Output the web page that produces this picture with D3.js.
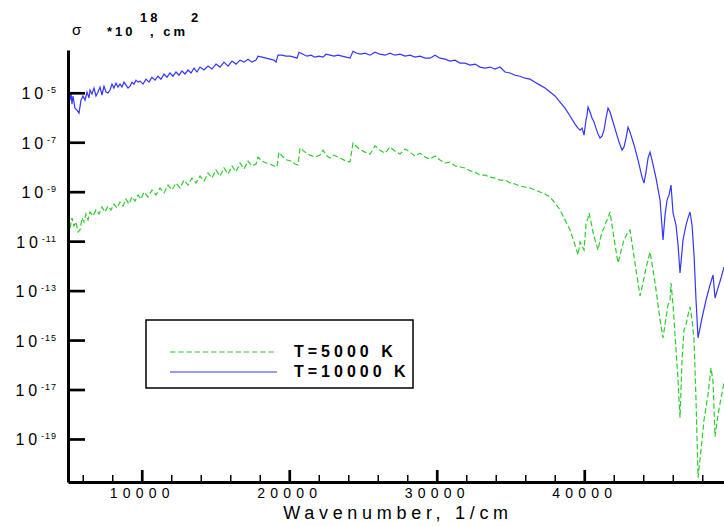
<!DOCTYPE html>
<html>
<head>
<meta charset="utf-8">
<script src="https://cdn.jsdelivr.net/npm/d3@7"></script>
<style>
  body { margin: 0; background: #fff; }
  svg { display: block; font-family: "Liberation Sans", Arial, sans-serif; }
  .axis .domain { stroke: #000; stroke-width: 3; }
  .axis .tick line { stroke: #000; stroke-width: 2.7; }
  .minor .tick line { stroke: #000; stroke-width: 1.5; }
  .minor .domain { display: none; }
</style>
</head>
<body>
<div id="chart"></div>
<script>
// wavenumber (1/cm) and log10 of cross section (in 10^-18 cm^2)
var wn10000 = [5136, 5203, 5271, 5339, 5475, 5610, 5746, 5881, 6017, 6153, 6288, 6424, 6492, 6627, 6763, 6898, 7034, 7170, 7305, 7441,
  7576, 7712, 7848, 7983, 8119, 8254, 8390, 8526, 8661, 8797, 8932, 9068, 9204, 9339, 9475, 9610, 9746, 9882, 10085, 10288,
  10492, 10695, 10899, 11102, 11305, 11509, 11712, 11916, 12119, 12322, 12526, 12729, 12933, 13136, 13339, 13543, 13746, 13950, 14221, 14492,
  14763, 15034, 15306, 15577, 15848, 16119, 16390, 16662, 16933, 17204, 17475, 17746, 17882, 18153, 18424, 18696, 18967, 19102, 19238, 19509,
  19780, 20052, 20323, 20526, 20662, 20933, 21204, 21475, 21747, 22018, 22289, 22492, 22764, 23035, 23306, 23577, 23848, 24120, 24323, 24594,
  24865, 25137, 25476, 25815, 26154, 26493, 26832, 27171, 27510, 27849, 28188, 28527, 28866, 29205, 29544, 29883, 30222, 30561, 30900, 31239,
  31578, 31917, 32256, 32595, 32934, 33273, 33612, 33951, 34290, 34629, 34968, 35307, 35646, 35985, 36324, 36663, 37002, 37341, 37680, 38019,
  38358, 38697, 39036, 39375, 39578, 39714, 39849, 39985, 40120, 40188, 40256, 40392, 40527, 40663, 40798, 40934, 41070, 41205, 41341, 41476,
  41612, 41748, 41951, 42154, 42358, 42561, 42697, 42832, 42968, 43104, 43375, 43646, 43917, 44053, 44188, 44324, 44460, 44595, 44866, 45138,
  45341, 45477, 45612, 45748, 45883, 46019, 46222, 46358, 46494, 46697, 46900, 47036, 47172, 47307, 47443, 47578, 47714, 47985, 48256, 48528,
  48731, 48867, 49070, 49273, 49477];
var lg10000 = [-5.30, -4.97, -5.46, -5.13, -5.62, -5.70, -5.82, -5.30, -5.13, -5.30, -4.97, -5.21, -4.89, -5.05, -4.81, -5.13, -4.97, -4.77, -5.09, -4.73,
  -4.97, -5.01, -4.89, -4.65, -4.81, -4.61, -4.77, -4.65, -4.77, -4.57, -4.69, -4.81, -4.73, -4.57, -4.65, -4.49, -4.57, -4.53, -4.65, -4.45,
  -4.57, -4.37, -4.49, -4.33, -4.45, -4.24, -4.37, -4.20, -4.33, -4.16, -4.29, -4.12, -4.24, -4.08, -4.20, -4.00, -4.16, -3.96, -4.08, -3.92,
  -4.04, -3.84, -3.96, -3.76, -3.92, -3.72, -3.84, -3.68, -3.76, -3.64, -3.76, -3.68, -3.52, -3.56, -3.60, -3.64, -3.68, -3.76, -3.48, -3.48,
  -3.52, -3.52, -3.56, -3.60, -3.36, -3.44, -3.52, -3.48, -3.56, -3.52, -3.56, -3.44, -3.48, -3.52, -3.48, -3.52, -3.56, -3.60, -3.32, -3.40,
  -3.44, -3.40, -3.48, -3.36, -3.44, -3.48, -3.40, -3.48, -3.44, -3.52, -3.48, -3.56, -3.52, -3.60, -3.60, -3.48, -3.60, -3.64, -3.72, -3.68,
  -3.80, -3.80, -3.88, -3.84, -3.96, -4.00, -3.96, -4.04, -3.96, -4.16, -4.20, -4.29, -4.33, -4.41, -4.45, -4.57, -4.69, -4.81, -4.97, -5.13,
  -5.38, -5.62, -5.94, -6.27, -6.43, -6.51, -6.43, -6.71, -6.10, -5.90, -5.58, -5.78, -6.02, -6.18, -6.43, -6.67, -6.83, -6.75, -6.51, -6.02,
  -5.62, -5.78, -6.18, -6.59, -6.99, -7.32, -7.19, -6.83, -6.39, -6.59, -7.11, -7.72, -8.41, -8.65, -8.20, -7.64, -7.40, -7.72, -8.45, -9.34,
  -10.95, -9.94, -9.34, -9.13, -8.73, -9.86, -10.35, -11.15, -12.29, -10.95, -10.35, -10.06, -9.82, -10.35, -11.56, -13.38, -14.91, -14.10, -13.38, -12.77,
  -12.37, -13.30, -12.89, -12.49, -12.04];

var wn5000 = [5136, 5271, 5407, 5542, 5678, 5814, 5949, 6085, 6220, 6356, 6492, 6695, 6898, 7102, 7305, 7509, 7712, 7915, 8119, 8322,
  8526, 8729, 8932, 9136, 9339, 9543, 9746, 9949, 10153, 10424, 10695, 10966, 11238, 11509, 11780, 12051, 12322, 12594, 12865, 13136,
  13407, 13678, 13950, 14221, 14492, 14763, 15034, 15306, 15577, 15848, 16119, 16390, 16662, 16933, 17204, 17475, 17746, 17882, 18153, 18424,
  18696, 18967, 19170, 19306, 19577, 19848, 20119, 20391, 20594, 20730, 21069, 21408, 21747, 22086, 22289, 22560, 22764, 23035, 23306, 23577,
  23848, 24120, 24323, 24594, 24865, 25137, 25476, 25815, 26154, 26493, 26832, 27171, 27510, 27849, 28188, 28527, 28866, 29205, 29544, 29883,
  30222, 30561, 30900, 31239, 31578, 31917, 32256, 32595, 32934, 33273, 33612, 33951, 34290, 34629, 34968, 35307, 35646, 35985, 36324, 36663,
  37002, 37341, 37680, 38019, 38358, 38697, 39036, 39307, 39578, 39714, 39849, 39985, 40120, 40256, 40324, 40459, 40595, 40731, 40934, 41070,
  41205, 41341, 41476, 41612, 41748, 41883, 42087, 42290, 42426, 42561, 42697, 42832, 42968, 43104, 43307, 43510, 43782, 43985, 44188, 44324,
  44460, 44663, 44866, 45138, 45341, 45544, 45680, 45816, 45883, 46019, 46222, 46358, 46494, 46629, 46765, 46900, 47036, 47172, 47307, 47443,
  47578, 47714, 47917, 48121, 48392, 48595, 48731, 48867, 49070, 49273, 49477];
var lg5000 = [-10.47, -10.06, -10.39, -10.22, -10.63, -10.55, -10.06, -10.22, -9.90, -10.14, -9.82, -9.98, -9.74, -9.90, -9.62, -9.82, -9.58, -9.74, -9.50, -9.66,
  -9.42, -9.58, -9.30, -9.50, -9.21, -9.38, -9.13, -9.30, -9.01, -9.21, -8.93, -9.13, -8.85, -9.05, -8.73, -8.93, -8.65, -8.85, -8.53, -8.73,
  -8.45, -8.65, -8.37, -8.57, -8.24, -8.45, -8.12, -8.37, -8.04, -8.29, -7.96, -8.20, -7.84, -8.08, -7.76, -7.96, -7.88, -7.60, -7.76, -7.84,
  -7.88, -7.96, -8.00, -7.40, -7.60, -7.72, -7.76, -7.88, -7.92, -7.23, -7.40, -7.52, -7.60, -7.52, -7.32, -7.56, -7.64, -7.52, -7.60, -7.68,
  -7.76, -7.80, -7.03, -7.19, -7.32, -7.40, -7.48, -7.15, -7.32, -7.44, -7.19, -7.36, -7.48, -7.27, -7.40, -7.56, -7.44, -7.60, -7.68, -7.56,
  -7.72, -7.84, -7.80, -7.96, -8.00, -8.04, -8.16, -8.20, -8.33, -8.33, -8.41, -8.45, -8.53, -8.53, -8.65, -8.69, -8.77, -8.81, -8.85, -8.93,
  -9.01, -9.09, -9.21, -9.46, -9.74, -10.14, -10.55, -11.03, -11.56, -11.03, -11.19, -11.36, -10.31, -10.06, -9.86, -10.22, -10.63, -10.95, -11.36, -10.95,
  -10.63, -10.47, -10.22, -10.06, -9.82, -10.35, -11.15, -11.88, -11.56, -11.23, -10.95, -10.79, -10.63, -10.55, -11.36, -12.16, -13.21, -12.69, -12.08, -11.76,
  -11.44, -12.16, -12.97, -14.18, -14.91, -14.10, -13.58, -13.38, -12.69, -13.58, -15.40, -16.61, -18.14, -15.80, -14.59, -14.39, -13.98, -13.66, -14.18, -14.99,
  -17.42, -20.57, -19.44, -18.22, -17.21, -16.12, -16.69, -18.91, -18.02, -17.34, -16.73];

var xMajor = [10000, 20000, 30000, 40000];
var xMinor = [6000, 8000, 12000, 14000, 16000, 18000, 22000, 24000, 26000, 28000,
  32000, 34000, 36000, 38000, 42000, 44000, 46000, 48000];
var yTicks = [1e-5, 1e-7, 1e-9, 1e-11, 1e-13, 1e-15, 1e-17, 1e-19];

var width = 724, height = 526;
var plot = {left: 68, top: 50, bottom: 482};

var svg = d3.select("#chart").append("svg")
  .attr("width", width)
  .attr("height", height);

var x = d3.scaleLinear().domain([5000, 50000]).range([plot.left, plot.left + 663.75]);
var y = d3.scaleLog().domain([Math.pow(10, -20.74), Math.pow(10, -3.27)]).range([plot.bottom, plot.top]);

svg.append("clipPath").attr("id", "plot-clip")
  .append("rect")
  .attr("x", plot.left).attr("y", plot.top)
  .attr("width", width - plot.left).attr("height", plot.bottom - plot.top);

var line = d3.line()
  .x(function(d) { return x(d[0]); })
  .y(function(d) { return y(Math.pow(10, d[1])); });

var series = [
  {name: "T=5000 K", wn: wn5000, lg: lg5000, color: "#2fcc2f", dash: "5.5,2.7"},
  {name: "T=10000 K", wn: wn10000, lg: lg10000, color: "#3535ff", dash: null}
];

svg.append("g")
  .attr("clip-path", "url(#plot-clip)")
  .selectAll("path")
  .data(series)
  .enter().append("path")
  .attr("fill", "none")
  .attr("stroke", function(d) { return d.color; })
  .attr("stroke-width", 1.2)
  .attr("stroke-dasharray", function(d) { return d.dash; })
  .attr("d", function(d) { return line(d3.zip(d.wn, d.lg)); });

// x axis: minor ticks, then major ticks with labels
svg.append("g")
  .attr("class", "minor")
  .attr("transform", "translate(0," + plot.bottom + ")")
  .call(d3.axisBottom(x).tickValues(xMinor).tickSize(-7).tickFormat(""));

var xAxis = svg.append("g")
  .attr("class", "axis")
  .attr("transform", "translate(0," + plot.bottom + ")")
  .call(d3.axisBottom(x).tickValues(xMajor).tickSizeInner(-12).tickSizeOuter(0).tickPadding(4).tickFormat(d3.format("d")));

xAxis.selectAll(".tick text")
  .attr("font-size", 14)
  .attr("letter-spacing", 5.2)
  .attr("fill", "#000")
  .attr("y", 0)
  .attr("dy", 16);

var yAxis = svg.append("g")
  .attr("class", "axis")
  .attr("transform", "translate(" + plot.left + ",0)")
  .call(d3.axisLeft(y).tickValues(yTicks).tickSizeInner(-17).tickSizeOuter(0).tickPadding(11).tickFormat(""));

yAxis.selectAll(".tick text")
  .attr("fill", "#000")
  .attr("dy", 6)
  .each(function(d) {
    var t = d3.select(this);
    t.append("tspan").attr("font-size", 16).attr("letter-spacing", 3.8).text("10");
    t.append("tspan").attr("font-size", 9).attr("letter-spacing", 1).attr("dy", -6)
      .text(Math.round(Math.log10(d)));
  });

// axis titles
svg.append("text")
  .attr("x", 398).attr("y", 519)
  .attr("text-anchor", "middle")
  .attr("font-size", 18)
  .attr("letter-spacing", 4.7)
  .text("Wavenumber, 1/cm");

var unit = svg.append("g").attr("font-weight", "bold").attr("font-size", 13).attr("letter-spacing", 3);
svg.append("text").attr("x", 72).attr("y", 35).attr("font-size", 15).text("σ");
unit.append("text").attr("x", 107).attr("y", 36).text("*10");
unit.append("text").attr("x", 140).attr("y", 22).text("18");
unit.append("text").attr("x", 150).attr("y", 36).text(", cm");
unit.append("text").attr("x", 191).attr("y", 22).text("2");

// legend
var legend = svg.append("g").attr("transform", "translate(146,320)");
legend.append("rect")
  .attr("width", 267).attr("height", 68)
  .attr("fill", "#fff")
  .attr("stroke", "#000")
  .attr("stroke-width", 1.5);

var item = legend.selectAll(".item")
  .data(series)
  .enter().append("g")
  .attr("class", "item")
  .attr("transform", function(d, i) { return "translate(0," + (32 + i * 20) + ")"; });

item.append("line")
  .attr("x1", 24).attr("x2", 131)
  .attr("stroke", function(d) { return d.color; })
  .attr("stroke-width", 1.2)
  .attr("stroke-dasharray", function(d) { return d.dash; });

item.append("text")
  .attr("x", 148).attr("y", 5)
  .attr("font-weight", "bold")
  .attr("font-size", 16)
  .attr("letter-spacing", 4)
  .text(function(d) { return d.name; });
</script>
</body>
</html>
